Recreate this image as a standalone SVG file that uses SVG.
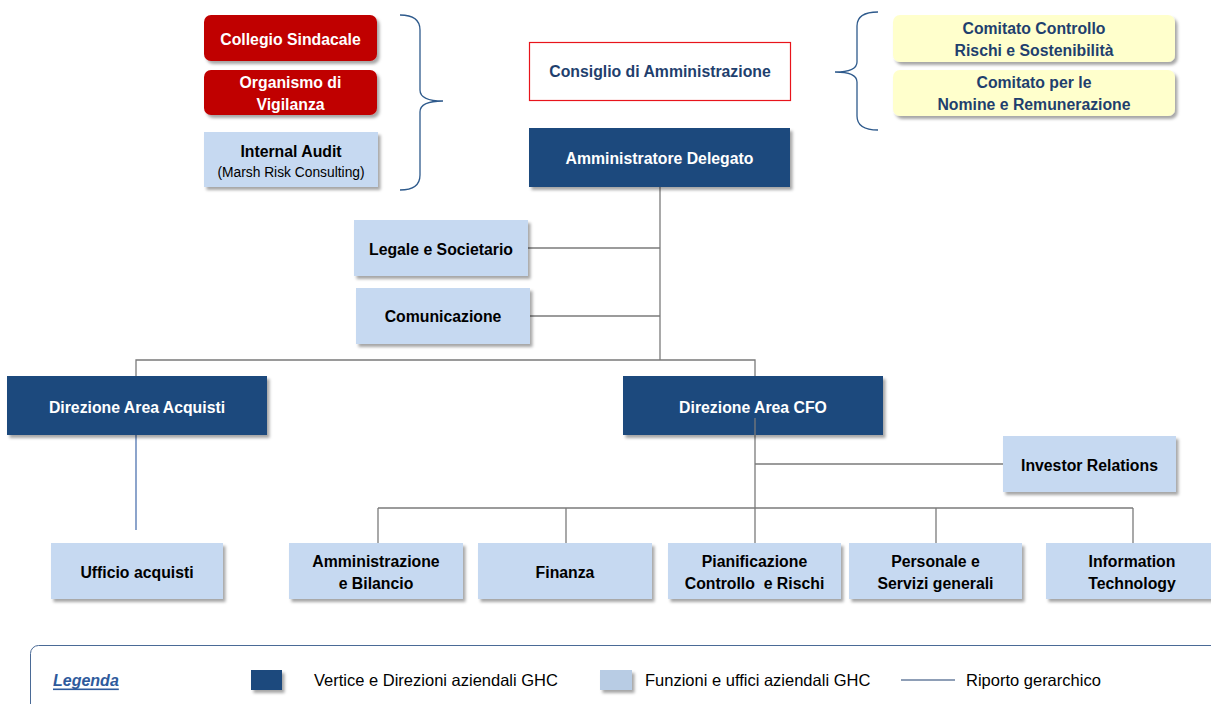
<svg xmlns="http://www.w3.org/2000/svg" width="1211" height="704" viewBox="0 0 1211 704">
<defs>
<filter id="sh" x="-10%" y="-10%" width="130%" height="140%">
<feDropShadow dx="2.5" dy="3" stdDeviation="1.5" flood-color="#000" flood-opacity="0.35"/>
</filter>
<style>
text{font-family:"Liberation Sans",Arial,sans-serif;text-anchor:middle;dominant-baseline:central}
.b{font-weight:bold;font-size:15.8px}
.dark{fill:#1F497D;filter:url(#sh)}
.light{fill:#C6D9F1;filter:url(#sh)}
.red{fill:#C00000;filter:url(#sh)}
.yel{fill:#FFFFCC;filter:url(#sh)}
.w{fill:#fff}
.k{fill:#000}
.n{fill:#1F3F6E}
.ln{stroke:#7a7a7a;stroke-width:1.3;fill:none}
.br{stroke:#2E5A8C;stroke-width:1.3;fill:none}
.lg{font-size:16.5px;text-anchor:start;fill:#000}
</style>
</defs>
<rect width="1211" height="704" fill="#fff"/>

<g id="connectors">
<line class="ln" x1="660" y1="187" x2="660" y2="360"/>
<line class="ln" x1="528" y1="248" x2="660" y2="248"/>
<line class="ln" x1="530" y1="316" x2="660" y2="316"/>
<polyline class="ln" points="136,376 136,360 755,360 755,376"/>
<line x1="136" y1="435" x2="136" y2="530" stroke="#4F74B0" stroke-width="1.3"/>
<line class="ln" x1="755" y1="418" x2="755" y2="508"/>
<line class="ln" x1="755" y1="464" x2="1003" y2="464"/>
<line class="ln" x1="378" y1="508" x2="1133" y2="508"/>
<line class="ln" x1="378" y1="508" x2="378" y2="543"/>
<line class="ln" x1="566" y1="508" x2="566" y2="543"/>
<line class="ln" x1="755" y1="508" x2="755" y2="543"/>
<line class="ln" x1="936" y1="508" x2="936" y2="543"/>
<line class="ln" x1="1133" y1="508" x2="1133" y2="543"/>
<path class="br" d="M400,15 Q420,15 420,30 L420,90 Q420,101 443,101 Q420,101 420,112 L420,175 Q420,190 400,190"/>
<path class="br" d="M878,12 Q857,12 857,26 L857,62 Q857,72 835,72 Q857,72 857,82 L857,116 Q857,130 878,130"/>
</g>

<g id="collegio"><rect class="red" x="204" y="15" width="173" height="46" rx="7"/><text class="b w" x="290.5" y="39">Collegio Sindacale</text></g>
<g id="organismo"><rect class="red" x="204" y="70" width="173" height="45" rx="7"/><text class="b w" x="290.5" y="82">Organismo di</text><text class="b w" x="290.5" y="104">Vigilanza</text></g>
<g id="internal-audit"><rect class="light" x="204" y="132" width="174" height="55"/><text class="b k" x="291" y="151">Internal Audit</text><text class="k" x="291" y="172" font-size="13.8">(Marsh Risk Consulting)</text></g>

<g id="consiglio"><rect x="529.5" y="42.5" width="261" height="58" fill="#fff" stroke="#E8141B" stroke-width="1.2"/><text class="b n" x="660" y="71">Consiglio di Amministrazione</text></g>
<g id="ad"><rect class="dark" x="529" y="128" width="261" height="59"/><text class="b w" x="659.5" y="158">Amministratore Delegato</text></g>

<g id="comitato-controllo"><rect class="yel" x="893" y="15" width="282" height="47" rx="7"/><text class="b n" x="1034" y="28">Comitato Controllo</text><text class="b n" x="1034" y="50">Rischi e Sostenibilità</text></g>
<g id="comitato-nomine"><rect class="yel" x="893" y="70" width="282" height="46" rx="7"/><text class="b n" x="1034" y="82">Comitato per le</text><text class="b n" x="1034" y="104">Nomine e Remunerazione</text></g>

<g id="legale"><rect class="light" x="354" y="220" width="174" height="56"/><text class="b k" x="441" y="249">Legale e Societario</text></g>
<g id="comunicazione"><rect class="light" x="356" y="288" width="174" height="56"/><text class="b k" x="443" y="316">Comunicazione</text></g>

<g id="dir-acquisti"><rect class="dark" x="7" y="376" width="260" height="59"/><text class="b w" x="137" y="407">Direzione Area Acquisti</text></g>
<g id="dir-cfo"><rect class="dark" x="623" y="376" width="260" height="59"/><text class="b w" x="753" y="407">Direzione Area CFO</text></g>
<line class="ln" x1="755" y1="418" x2="755" y2="436"/>
<g id="investor"><rect class="light" x="1003" y="436" width="173" height="56"/><text class="b k" x="1089.5" y="465">Investor Relations</text></g>

<g id="ufficio-acquisti"><rect class="light" x="51" y="543" width="172" height="56"/><text class="b k" x="137" y="572">Ufficio acquisti</text></g>
<g id="amministrazione"><rect class="light" x="289" y="543" width="174" height="56"/><text class="b k" x="376" y="561">Amministrazione</text><text class="b k" x="376" y="583">e Bilancio</text></g>
<g id="finanza"><rect class="light" x="478" y="543" width="174" height="56"/><text class="b k" x="565" y="572">Finanza</text></g>
<g id="pianificazione"><rect class="light" x="668" y="543" width="173" height="56"/><text class="b k" x="754.5" y="561">Pianificazione</text><text class="b k" x="754.5" y="583" xml:space="preserve">Controllo  e Rischi</text></g>
<g id="personale"><rect class="light" x="849" y="543" width="173" height="56"/><text class="b k" x="935.5" y="561">Personale e</text><text class="b k" x="935.5" y="583">Servizi generali</text></g>
<g id="it"><rect class="light" x="1046" y="543" width="174" height="56"/><text class="b k" x="1132" y="561">Information</text><text class="b k" x="1132" y="583">Technology</text></g>

<g id="legenda">
<rect x="30.5" y="645.5" width="1200" height="80" rx="8" fill="none" stroke="#4A6A96" stroke-width="1"/>
<text x="53" y="680" font-size="16" font-weight="bold" font-style="italic" fill="#2E5A9C" text-decoration="underline" style="text-anchor:start">Legenda</text>
<rect x="251" y="670" width="31" height="20" fill="#1F497D" filter="url(#sh)"/>
<text class="lg" x="314" y="680">Vertice e Direzioni aziendali GHC</text>
<rect x="600" y="670" width="32" height="20" fill="#B8CCE4" filter="url(#sh)"/>
<text class="lg" x="645" y="680">Funzioni e uffici aziendali GHC</text>
<line x1="901" y1="680" x2="955" y2="680" stroke="#1F3F6E" stroke-width="1"/>
<text class="lg" x="966" y="680">Riporto gerarchico</text>
</g>
</svg>
